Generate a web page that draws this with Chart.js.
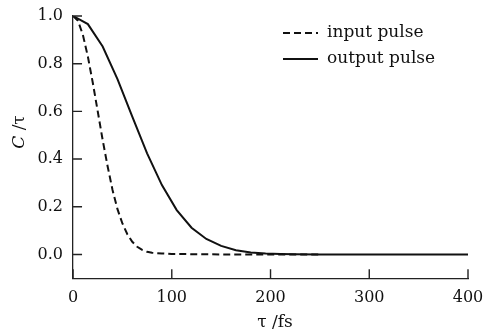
<!DOCTYPE html>
<html>
<head>
<meta charset="utf-8">
<script src="https://cdn.jsdelivr.net/npm/chart.js@4/dist/chart.umd.min.js"></script>
<style>
  body { margin: 0; background: #fff; }
</style>
</head>
<body>
<canvas id="pulseChart" width="495" height="334"></canvas>
<script>
// data
const tauIn = [0, 5, 10, 15, 20, 25, 30, 35, 40, 45, 50, 55, 60, 65, 70, 75, 80, 90, 100, 125, 150, 175, 200, 225, 250];
const inputPulse = [1.0, 0.98, 0.92, 0.83, 0.72, 0.60, 0.48, 0.37, 0.27, 0.19, 0.13, 0.085, 0.053, 0.032, 0.019, 0.011, 0.007, 0.004, 0.002, 0.001, 0, 0, 0, 0, 0];

const tauOut = [0, 15, 30, 45, 60, 75, 90, 105, 120, 135, 150, 165, 180, 195, 210, 225, 250, 300, 350, 400];
const outputPulse = [1.0, 0.966, 0.872, 0.735, 0.578, 0.424, 0.291, 0.186, 0.112, 0.065, 0.036, 0.018, 0.008, 0.004, 0.002, 0.001, 0, 0, 0, 0];

const xTicks = [0, 100, 200, 300, 400];
const yTicks = [0.0, 0.2, 0.4, 0.6, 0.8, 1.0];

const FONT = '"DejaVu Serif", serif';
const INK = '#111';
const AXIS = '#222';

const toPoints = (xs, ys) => xs.map((x, i) => ({ x: x, y: ys[i] }));

// inward ticks, legend inside the plot, axis titles (italic C)
const extras = {
    id: 'extras',
    afterDraw(chart) {
        const ctx = chart.ctx;
        const area = chart.chartArea;
        const sx = chart.scales.x, sy = chart.scales.y;
        ctx.save();
        ctx.setLineDash([]);

        // ticks pointing into the plot
        ctx.strokeStyle = AXIS;
        ctx.lineWidth = 1.4;
        ctx.beginPath();
        xTicks.forEach(v => {
            const px = sx.getPixelForValue(v);
            ctx.moveTo(px, area.bottom);
            ctx.lineTo(px, area.bottom - 9);
        });
        yTicks.forEach(v => {
            const py = sy.getPixelForValue(v);
            ctx.moveTo(area.left, py);
            ctx.lineTo(area.left + 9, py);
        });
        ctx.stroke();

        // legend
        ctx.fillStyle = INK;
        ctx.strokeStyle = INK;
        ctx.font = '17px ' + FONT;
        ctx.textBaseline = 'middle';
        chart.data.datasets.forEach((ds, i) => {
            const y = 33 + i * 26;
            ctx.lineWidth = ds.borderWidth;
            ctx.setLineDash(ds.borderDash || []);
            ctx.beginPath();
            ctx.moveTo(283, y);
            ctx.lineTo(318, y);
            ctx.stroke();
            ctx.setLineDash([]);
            ctx.fillText(ds.label, 327, y);
        });

        // x axis title
        ctx.textAlign = 'center';
        ctx.font = '17px ' + FONT;
        ctx.fillText('τ /fs', 275, 323);

        // y axis title
        ctx.translate(20, 132);
        ctx.rotate(-Math.PI / 2);
        ctx.textAlign = 'left';
        ctx.font = 'italic 17px ' + FONT;
        const wC = ctx.measureText('C').width;
        ctx.font = '17px ' + FONT;
        const wR = ctx.measureText(' /τ').width;
        const x0 = -(wC + wR) / 2;
        ctx.font = 'italic 17px ' + FONT;
        ctx.fillText('C', x0, 0);
        ctx.font = '17px ' + FONT;
        ctx.fillText(' /τ', x0 + wC, 0);
        ctx.restore();
    }
};

const ctx = document.getElementById('pulseChart').getContext('2d');

const pulseChart = new Chart(ctx, {
    type: 'line',
    data: {
        datasets: [{
            label: 'input pulse',
            data: toPoints(tauIn, inputPulse),
            borderColor: INK,
            borderWidth: 2,
            borderDash: [7, 4],
            pointRadius: 0,
            tension: 0,
            fill: false
        }, {
            label: 'output pulse',
            data: toPoints(tauOut, outputPulse),
            borderColor: INK,
            borderWidth: 2,
            pointRadius: 0,
            tension: 0,
            fill: false
        }]
    },
    options: {
        responsive: false,
        animation: false,
        devicePixelRatio: 1,
        layout: { padding: { left: 37.6, right: 27, top: 16, bottom: 26.5 } },
        plugins: {
            legend: { display: false },
            tooltip: { enabled: false }
        },
        scales: {
            x: {
                type: 'linear',
                min: 0,
                max: 400,
                afterBuildTicks: (scale) => { scale.ticks = xTicks.map(v => ({ value: v })); },
                grid: { drawOnChartArea: false, drawTicks: true, tickLength: 10, tickColor: 'rgba(0,0,0,0)' },
                border: { display: true, color: AXIS, width: 1.3 },
                ticks: {
                    padding: 0,
                    color: INK,
                    font: { family: FONT, size: 16 },
                    maxRotation: 0
                }
            },
            y: {
                type: 'linear',
                min: -0.1,
                max: 1.0,
                afterBuildTicks: (scale) => { scale.ticks = yTicks.map(v => ({ value: v })); },
                grid: { drawOnChartArea: false, drawTicks: true, tickLength: 10, tickColor: 'rgba(0,0,0,0)' },
                border: { display: true, color: AXIS, width: 1.3 },
                ticks: {
                    padding: 0,
                    color: INK,
                    font: { family: FONT, size: 16 },
                    callback: (v) => v.toFixed(1)
                }
            }
        }
    },
    plugins: [extras]
});
</script>
</body>
</html>
